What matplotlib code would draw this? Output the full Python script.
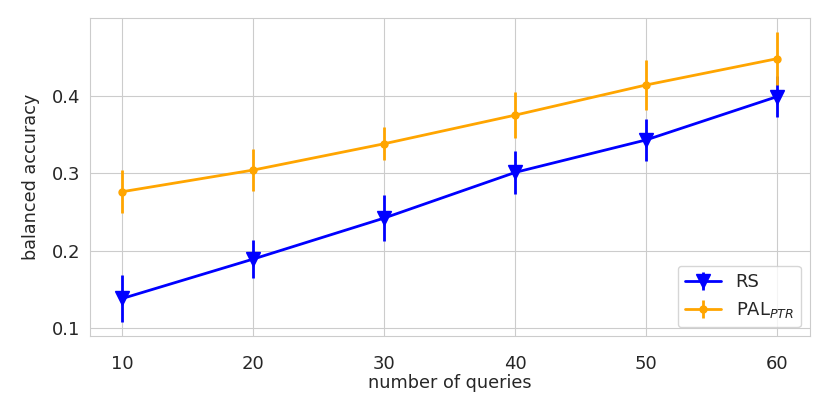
import numpy as np
import matplotlib
matplotlib.use('Agg')
import matplotlib.pyplot as plt
import seaborn as sns

queries = [10, 20, 30, 40, 50, 60]
rs_mean = [0.138, 0.189, 0.242, 0.301, 0.343, 0.399]
rs_err = [0.030, 0.025, 0.030, 0.028, 0.027, 0.027]
pal_mean = [0.276, 0.304, 0.338, 0.375, 0.414, 0.448]
pal_err = [0.028, 0.027, 0.021, 0.030, 0.032, 0.034]

sns.set_style('whitegrid')
plt.rcParams['font.family'] = ['DejaVu Sans']

fig = plt.figure(figsize=(8.3, 4.15), dpi=100)
ax = fig.add_axes([0.108, 0.19, 0.868, 0.767])

ax.errorbar(queries, rs_mean, yerr=rs_err, color='blue', marker='v',
            markersize=10, linewidth=2, elinewidth=2, label='RS')
ax.errorbar(queries, pal_mean, yerr=pal_err, color='orange', marker='o',
            markersize=5, linewidth=2, elinewidth=2, label='PAL$_{PTR}$')

ax.set_xlabel('number of queries', fontsize=12.7, labelpad=1)
ax.set_ylabel('balanced accuracy', fontsize=12.7, labelpad=8)
ax.set_xticks(queries)
ax.set_yticks([0.1, 0.2, 0.3, 0.4])
ax.tick_params(labelsize=13)
ax.tick_params(axis='x', pad=10)
ax.legend(loc='lower right', fontsize=13)

fig.savefig('out.png')
